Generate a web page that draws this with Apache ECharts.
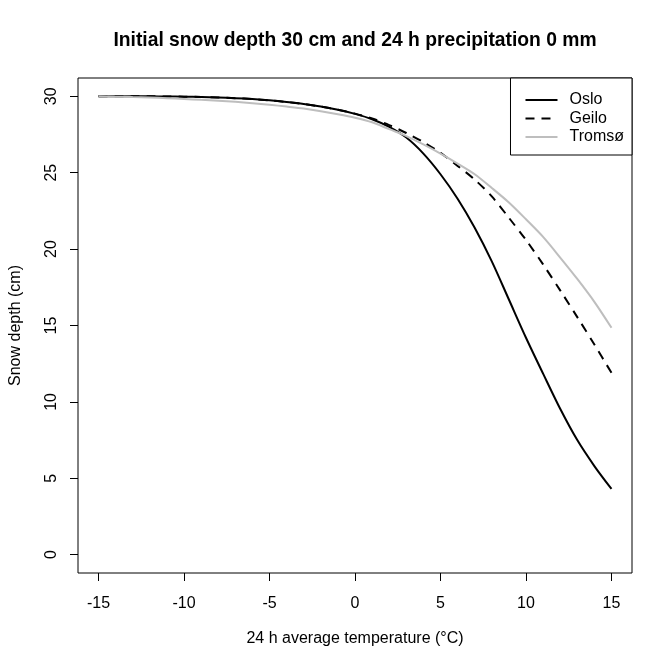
<!DOCTYPE html>
<html>
<head>
<meta charset="utf-8">
<script src="https://cdn.jsdelivr.net/npm/echarts@6/dist/echarts.min.js"></script>
<style>html,body{margin:0;padding:0;background:#fff}#c{width:672px;height:671px}</style>
</head>
<body>
<div id="c"></div>
<script>
const temps = [-15,-14,-13,-12,-11,-10,-9,-8,-7,-6,-5,-4,-3,-2,-1,0,1,2,3,4,5,6,7,8,9,10,11,12,13,14,15];
const oslo = [30.0,30.0,30.0,30.0,29.99,29.98,29.96,29.93,29.88,29.82,29.74,29.63,29.5,29.33,29.12,28.85,28.5,28.0,27.3,26.25,24.9,23.3,21.4,19.2,16.7,14.2,11.85,9.55,7.5,5.8,4.3];
const geilo = [30.0,30.0,30.0,30.0,29.99,29.98,29.96,29.93,29.88,29.82,29.74,29.63,29.5,29.33,29.12,28.87,28.55,28.12,27.6,27.0,26.3,25.45,24.55,23.45,22.05,20.6,19.0,17.3,15.55,13.75,11.9];
const tromso = [30.0,29.98,29.95,29.92,29.88,29.83,29.77,29.71,29.64,29.55,29.45,29.33,29.2,29.03,28.83,28.6,28.3,27.85,27.4,26.85,26.25,25.6,24.9,24.0,23.05,21.95,20.8,19.45,18.05,16.55,14.85];
const xTicks = [-15,-10,-5,0,5,10,15];
const yTicks = [0,5,10,15,20,25,30];
const seriesNames = ['Oslo','Geilo','Tromsø'];

const pair = arr => temps.map((t,i)=>[t,arr[i]]);
const font = 'Liberation Sans, Arial, sans-serif';
const chart = echarts.init(document.getElementById('c'));
chart.setOption({
  animation:false,
  backgroundColor:'#fff',
  title:{text:'Initial snow depth 30 cm and 24 h precipitation 0 mm',left:350,textAlign:'center',top:26,
    textStyle:{fontFamily:font,fontSize:19.3,fontWeight:'bold',color:'#000'}},
  grid:{left:78,top:78,width:554,height:495,show:true,borderColor:'#000',borderWidth:1,backgroundColor:'transparent',
    containLabel:false,outerBoundsMode:'none'},
  legend:{orient:'vertical',right:40,top:78,data:seriesNames,itemWidth:32,itemHeight:14,itemGap:2.5,
    padding:[14,8,10,14],borderColor:'#000',borderWidth:1,backgroundColor:'#fff',
    itemStyle:{color:'transparent',borderWidth:0,opacity:0},
    textStyle:{fontFamily:font,fontSize:16,color:'#000',padding:[0,0,0,7]}},
  xAxis:{type:'value',min:-16.2,max:16.2,position:'bottom',name:'24 h average temperature (°C)',nameLocation:'middle',nameGap:58,
    nameTextStyle:{fontFamily:font,fontSize:16,color:'#000'},
    axisLine:{show:false,onZero:false},splitLine:{show:false},
    axisTick:{show:true,inside:false,length:8,lineStyle:{color:'#000'},customValues:xTicks},
    axisLabel:{fontFamily:font,fontSize:16,color:'#000',margin:23,customValues:xTicks}},
  yAxis:{type:'value',min:-1.2,max:31.2,position:'left',name:'Snow depth (cm)',nameLocation:'middle',nameGap:54,
    nameTextStyle:{fontFamily:font,fontSize:16,color:'#000'},
    axisLine:{show:false,onZero:false},splitLine:{show:false},
    axisTick:{show:true,inside:false,length:8,lineStyle:{color:'#000'},customValues:yTicks},
    axisLabel:{fontFamily:font,fontSize:16,color:'#000',margin:18,rotate:90,customValues:yTicks}},
  series:[
    {name:'Oslo',type:'line',data:pair(oslo),showSymbol:false,symbol:'none',smooth:0.3,
      lineStyle:{color:'#000',width:2,type:'solid'},itemStyle:{color:'#000'}},
    {name:'Geilo',type:'line',data:pair(geilo),showSymbol:false,symbol:'none',smooth:0.3,
      lineStyle:{color:'#000',width:2,type:[9,7]},itemStyle:{color:'#000'}},
    {name:'Tromsø',type:'line',data:pair(tromso),showSymbol:false,symbol:'none',smooth:0.3,
      lineStyle:{color:'#bebebe',width:2,type:'solid'},itemStyle:{color:'#bebebe'}}
  ]
});
</script>
</body>
</html>
